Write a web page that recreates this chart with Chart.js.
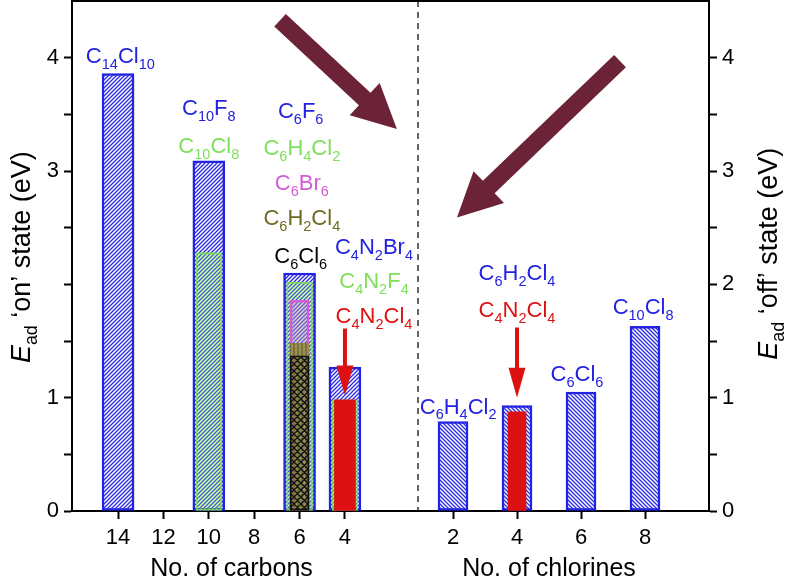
<!DOCTYPE html>
<html>
<head>
<meta charset="utf-8">
<script src="https://cdn.jsdelivr.net/npm/chart.js@4.4.1/dist/chart.umd.min.js"></script>
<style>
  html, body { margin: 0; padding: 0; background: #fff; }
  #wrap { width: 786px; height: 579px; position: relative; }
</style>
</head>
<body>
<div id="wrap"><canvas id="chart"></canvas></div>
<script>
// tick labels
const carbonTicks = [14, 12, 10, 8, 6, 4];
const chlorineTicks = [2, 4, 6, 8];
const yTickValues = [0, 0.5, 1, 1.5, 2, 2.5, 3, 3.5, 4];
const yLabelsLeft = [0, 1, 3, 4];
const yLabelsRight = [0, 1, 2, 3, 4];

// 'on' state, by number of carbons
const blueCarbons = [14, 10, 6, 4];
const blueCarbonValues = [3.86, 3.09, 2.10, 1.27];
const greenCarbons = [10, 6, 4];
const greenCarbonValues = [2.28, 2.02, 0.98];
const magentaCarbons = [6];
const magentaValues = [1.86];
const oliveCarbons = [6];
const oliveValues = [1.48];
const blackCarbons = [6];
const blackValues = [1.37];
const redCarbons = [4];
const redCarbonValues = [0.98];

// 'off' state, by number of chlorines
const blueChlorines = [2, 4, 6, 8];
const blueChlorineValues = [0.79, 0.93, 1.05, 1.63];
const redChlorines = [4];
const redChlorineValues = [0.875];

const BLUE = '#2222e0';
const GREEN = '#7ee05a';
const MAGENTA = '#d35bd8';
const OLIVE = '#6e6a22';
const RED = '#dd1111';
const MAROON = '#6c2338';

// molecule names placed in data units of the scale they belong to
const molLabels = [
  {axis: 'xc', x: 13.9, y: 3.95, text: 'C_{14}Cl_{10}', color: BLUE},
  {axis: 'xc', x: 10, y: 3.49, text: 'C_{10}F_{8}', color: BLUE},
  {axis: 'xc', x: 10, y: 3.16, text: 'C_{10}Cl_{8}', color: GREEN},
  {axis: 'xc', x: 5.95, y: 3.47, text: 'C_{6}F_{6}', color: BLUE},
  {axis: 'xc', x: 5.9, y: 3.14, text: 'C_{6}H_{4}Cl_{2}', color: GREEN},
  {axis: 'xc', x: 5.9, y: 2.83, text: 'C_{6}Br_{6}', color: MAGENTA},
  {axis: 'xc', x: 5.9, y: 2.52, text: 'C_{6}H_{2}Cl_{4}', color: OLIVE},
  {axis: 'xc', x: 5.95, y: 2.19, text: 'C_{6}Cl_{6}', color: '#000'},
  {axis: 'xc', x: 2.72, y: 2.27, text: 'C_{4}N_{2}Br_{4}', color: BLUE},
  {axis: 'xc', x: 2.72, y: 1.97, text: 'C_{4}N_{2}F_{4}', color: GREEN},
  {axis: 'xc', x: 2.72, y: 1.66, text: 'C_{4}N_{2}Cl_{4}', color: RED},
  {axis: 'xn', x: 2.16, y: 0.86, text: 'C_{6}H_{4}Cl_{2}', color: BLUE},
  {axis: 'xn', x: 4.0, y: 2.04, text: 'C_{6}H_{2}Cl_{4}', color: BLUE},
  {axis: 'xn', x: 4.0, y: 1.71, text: 'C_{4}N_{2}Cl_{4}', color: RED},
  {axis: 'xn', x: 5.875, y: 1.15, text: 'C_{6}Cl_{6}', color: BLUE},
  {axis: 'xn', x: 7.94, y: 1.74, text: 'C_{10}Cl_{8}', color: BLUE}
];

const bigArrows = [
  {axis: 'xc', from: [6.86, 4.33], to: [1.71, 3.37]},
  {axis: 'xn', from: [7.22, 3.97], to: [2.125, 2.59]}
];
const redArrows = [
  {axis: 'xc', x: 4, from: 1.61, to: 1.02},
  {axis: 'xn', x: 4, from: 1.62, to: 1.0}
];

const FONT = '"Liberation Sans", Arial, Helvetica, sans-serif';
Chart.defaults.font.family = FONT;
Chart.defaults.color = '#000';

function hatch(color, dir, bg, size, lw) {
  const c = document.createElement('canvas');
  c.width = c.height = size;
  const g = c.getContext('2d');
  if (bg) { g.fillStyle = bg; g.fillRect(0, 0, size, size); }
  g.strokeStyle = color;
  g.lineWidth = lw;
  g.beginPath();
  if (dir === '/' || dir === 'x') {
    g.moveTo(0, size); g.lineTo(size, 0);
    g.moveTo(-1, 1); g.lineTo(1, -1);
    g.moveTo(size - 1, size + 1); g.lineTo(size + 1, size - 1);
  }
  if (dir === '\\' || dir === 'x') {
    g.moveTo(0, 0); g.lineTo(size, size);
    g.moveTo(size - 1, -1); g.lineTo(size + 1, 1);
    g.moveTo(-1, size - 1); g.lineTo(1, size + 1);
  }
  if (dir === '|') {
    g.moveTo(size / 2, 0); g.lineTo(size / 2, size);
  }
  g.stroke();
  return g.createPattern(c, 'repeat');
}

const ctx = document.getElementById('chart').getContext('2d');

const pBlueL = hatch('#2a2ae8', '/', '#ffffff', 4, 1.3);
const pBlueR = hatch('#2a2ae8', '\\', '#ffffff', 4, 1.3);
const pGreen = hatch('rgba(120,225,80,0.85)', '\\', 'rgba(150,235,110,0.08)', 4, 1.1);
const pMagenta = hatch('rgba(215,110,220,0.7)', '\\', null, 4, 1.2);
const pOlive = hatch('#6d6826', '|', 'rgba(150,142,70,0.85)', 4, 1.4);
const pBlack = hatch('#111', 'x', null, 7, 1.4);

function pts(xs, ys) {
  return xs.map((x, i) => ({x: x, y: ys[i]}));
}

function bars(label, xAxisID, xs, ys, bg, border, bw, thick, order) {
  return {
    label: label,
    data: pts(xs, ys),
    xAxisID: xAxisID,
    yAxisID: 'y',
    backgroundColor: bg,
    borderColor: border,
    borderWidth: bw,
    borderSkipped: false,
    barThickness: thick,
    grouped: false,
    order: order
  };
}

function drawRich(c, segs, x, y, size, color, align) {
  const subSize = size * 0.66;
  let w = 0;
  segs.forEach(s => {
    c.font = (s.it ? 'italic ' : '') + (s.sub ? subSize : size) + 'px ' + FONT;
    s.w = c.measureText(s.t).width;
    w += s.w;
  });
  let cx = align === 'center' ? x - w / 2 : x;
  c.fillStyle = color;
  c.textAlign = 'left';
  c.textBaseline = 'alphabetic';
  segs.forEach(s => {
    c.font = (s.it ? 'italic ' : '') + (s.sub ? subSize : size) + 'px ' + FONT;
    c.fillText(s.t, cx, y + (s.sub ? size * 0.27 : 0));
    cx += s.w;
  });
}

function parseFormula(str) {
  const segs = [];
  const re = /_\{([^}]*)\}|([^_]+)/g;
  let m;
  while ((m = re.exec(str))) {
    if (m[1] !== undefined) segs.push({t: m[1], sub: true});
    else segs.push({t: m[2]});
  }
  return segs;
}

function drawArrow(c, x1, y1, x2, y2, shaft, headW, headL, color) {
  const dx = x2 - x1, dy = y2 - y1;
  const len = Math.hypot(dx, dy);
  const ux = dx / len, uy = dy / len;
  const nx = -uy, ny = ux;
  const bx = x2 - ux * headL, by = y2 - uy * headL;
  c.fillStyle = color;
  c.beginPath();
  c.moveTo(x1 + nx * shaft / 2, y1 + ny * shaft / 2);
  c.lineTo(bx + nx * shaft / 2, by + ny * shaft / 2);
  c.lineTo(bx + nx * headW / 2, by + ny * headW / 2);
  c.lineTo(x2, y2);
  c.lineTo(bx - nx * headW / 2, by - ny * headW / 2);
  c.lineTo(bx - nx * shaft / 2, by - ny * shaft / 2);
  c.lineTo(x1 - nx * shaft / 2, y1 - ny * shaft / 2);
  c.closePath();
  c.fill();
}

const decor = {
  id: 'decor',
  afterDraw(chart) {
    const c = chart.ctx;
    const a = chart.chartArea;
    const s = chart.scales;
    const y = s.y;
    c.save();

    // divider between the two halves
    const xd = s.xc.right;
    c.strokeStyle = '#222';
    c.lineWidth = 1.4;
    c.setLineDash([6, 5]);
    c.beginPath();
    c.moveTo(xd, a.top);
    c.lineTo(xd, a.bottom);
    c.stroke();
    c.setLineDash([]);

    // top frame
    c.strokeStyle = '#000';
    c.lineWidth = 2;
    c.beginPath();
    c.moveTo(a.left - 1, a.top);
    c.lineTo(a.right + 1, a.top);
    c.stroke();

    bigArrows.forEach(ar => {
      const xs = s[ar.axis];
      drawArrow(c, xs.getPixelForValue(ar.from[0]), y.getPixelForValue(ar.from[1]),
        xs.getPixelForValue(ar.to[0]), y.getPixelForValue(ar.to[1]), 17, 44, 44, MAROON);
    });
    redArrows.forEach(ar => {
      const px = s[ar.axis].getPixelForValue(ar.x);
      drawArrow(c, px, y.getPixelForValue(ar.from), px, y.getPixelForValue(ar.to), 4, 17, 30, RED);
    });

    molLabels.forEach(l => {
      drawRich(c, parseFormula(l.text), s[l.axis].getPixelForValue(l.x),
        y.getPixelForValue(l.y), 22, l.color, 'center');
    });

    // axis titles
    const tb = a.bottom + 65;
    const cMid = (s.xc.getPixelForValue(carbonTicks[0]) + s.xc.getPixelForValue(carbonTicks[carbonTicks.length - 1])) / 2;
    const nMid = (s.xn.getPixelForValue(chlorineTicks[0]) + s.xn.getPixelForValue(chlorineTicks[chlorineTicks.length - 1])) / 2;
    drawRich(c, [{t: 'No. of carbons'}], cMid, tb, 25, '#000', 'center');
    drawRich(c, [{t: 'No. of chlorines'}], nMid, tb, 25, '#000', 'center');

    const titles = [
      {x: a.left - 51, yv: 2.24, segs: [{t: 'E', it: true}, {t: 'ad', sub: true}, {t: ' \u2018on\u2019 state (eV)'}]},
      {x: a.right + 59, yv: 2.27, segs: [{t: 'E', it: true}, {t: 'ad', sub: true}, {t: ' \u2018off\u2019 state (eV)'}]}
    ];
    titles.forEach(t => {
      c.save();
      c.translate(t.x, y.getPixelForValue(t.yv));
      c.rotate(-Math.PI / 2);
      drawRich(c, t.segs, 0, 9, 27, '#000', 'center');
      c.restore();
    });
    c.restore();
  }
};

const tickFont = {size: 22};
const axisGrid = {display: true, drawOnChartArea: false, drawTicks: true, tickLength: 8, tickWidth: 2, tickColor: '#000', offset: false};
const axisBorder = {display: true, color: '#000', width: 2};
const yTicks = (sc) => { sc.ticks = yTickValues.map(v => ({value: v})); };
const fitY = (w) => (sc) => { sc.width = w; sc.paddingTop = 0; sc.paddingBottom = 0; };
const fitX = (sc) => { sc.height = 68; sc.paddingLeft = 0; sc.paddingRight = 0; };

new Chart(ctx, {
  type: 'bar',
  data: {
    datasets: [
      bars('C4N2Cl4 on', 'xc', redCarbons, redCarbonValues, RED, RED, 0, 21, 1),
      bars('C6Cl6', 'xc', blackCarbons, blackValues, pBlack, '#111', 1.3, 19, 2),
      bars('C6H2Cl4', 'xc', oliveCarbons, oliveValues, pOlive, 'rgba(0,0,0,0)', 0, 19, 3),
      bars('C6Br6', 'xc', magentaCarbons, magentaValues, pMagenta, MAGENTA, 2, 19, 4),
      bars('green on', 'xc', greenCarbons, greenCarbonValues, pGreen, 'rgba(120,225,80,0.9)', 1.2, 26, 5),
      bars('blue on', 'xc', blueCarbons, blueCarbonValues, pBlueL, BLUE, 2.5, 32, 6),
      bars('C4N2Cl4 off', 'xn', redChlorines, redChlorineValues, RED, RED, 0, 18, 1),
      bars('blue off', 'xn', blueChlorines, blueChlorineValues, pBlueR, BLUE, 2.5, 30, 6)
    ]
  },
  options: {
    responsive: true,
    maintainAspectRatio: false,
    animation: false,
    devicePixelRatio: 1,
    layout: {padding: {top: 1, left: 0, right: 0, bottom: 0}},
    plugins: {legend: {display: false}, tooltip: {enabled: false}},
    scales: {
      xc: {
        type: 'linear',
        position: 'bottom',
        stack: 'bottom',
        stackWeight: 346,
        offset: false,
        reverse: true,
        min: 0.78,
        max: 16.03,
        grid: axisGrid,
        border: axisBorder,
        ticks: {font: tickFont, padding: 6, autoSkip: false, maxRotation: 0},
        afterBuildTicks: (sc) => { sc.ticks = carbonTicks.map(v => ({value: v})); },
        afterFit: fitX
      },
      xn: {
        type: 'linear',
        position: 'bottom',
        stack: 'bottom',
        stackWeight: 291,
        offset: false,
        min: 0.906,
        max: 10,
        grid: axisGrid,
        border: axisBorder,
        ticks: {font: tickFont, padding: 6, autoSkip: false, maxRotation: 0},
        afterBuildTicks: (sc) => { sc.ticks = chlorineTicks.map(v => ({value: v})); },
        afterFit: fitX
      },
      y: {
        type: 'linear',
        position: 'left',
        min: 0,
        max: 4.5,
        grid: axisGrid,
        border: axisBorder,
        ticks: {
          font: tickFont, padding: 5, autoSkip: false,
          callback: (v) => yLabelsLeft.includes(v) ? String(v) : ''
        },
        afterBuildTicks: yTicks,
        afterFit: fitY(72)
      },
      y2: {
        type: 'linear',
        position: 'right',
        min: 0,
        max: 4.5,
        grid: axisGrid,
        border: axisBorder,
        ticks: {
          font: tickFont, padding: 5, autoSkip: false,
          callback: (v) => yLabelsRight.includes(v) ? String(v) : ''
        },
        afterBuildTicks: yTicks,
        afterFit: fitY(77)
      }
    }
  },
  plugins: [decor]
});
</script>
</body>
</html>
